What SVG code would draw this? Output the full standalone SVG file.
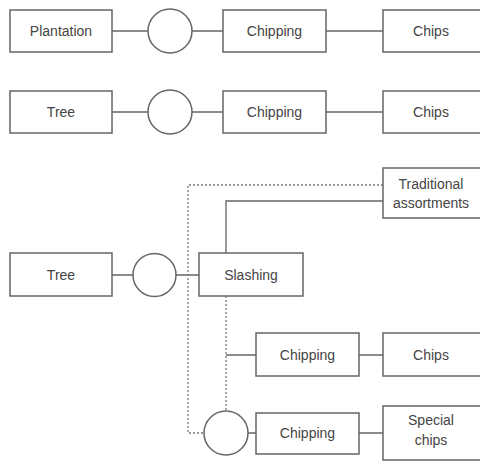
<svg xmlns="http://www.w3.org/2000/svg" width="480" height="462" viewBox="0 0 480 462">
<style>
.box{fill:#fff;stroke:#666;stroke-width:1.5}
.c{fill:#fff;stroke:#666;stroke-width:1.5}
.l{fill:none;stroke:#666;stroke-width:1.3}
.d{fill:none;stroke:#777;stroke-width:1.3;stroke-dasharray:2 2}
text{font-family:"Liberation Sans",Arial,sans-serif;font-size:14px;fill:#444;text-anchor:middle;dominant-baseline:central}
</style>
<rect width="480" height="462" fill="#fff"/>
<g id="connectors">
<path class="l" d="M112 31H148M192 31H223M326 31H383"/>
<path class="l" d="M112 112H148M192 112H223M326 112H383"/>
<path class="l" d="M112 275H133M176 275H199"/>
<path class="d" d="M383 185H188V433H204"/>
<path class="l" d="M226 253V201H383"/>
<path class="d" d="M226 296V411"/>
<path class="l" d="M226 355H256M359 355H383"/>
<path class="l" d="M248 433H256M359 433H383"/>
</g>
<g id="n1"><rect class="box" x="10" y="10" width="102" height="42"/><text x="61" y="31">Plantation</text></g>
<g id="c1"><circle class="c" cx="170" cy="31" r="22"/></g>
<g id="n2"><rect class="box" x="223" y="10" width="103" height="42"/><text x="274.5" y="31">Chipping</text></g>
<g id="n3"><rect class="box" x="383" y="10" width="100" height="42"/><text x="431" y="31">Chips</text></g>
<g id="n4"><rect class="box" x="10" y="91" width="102" height="42"/><text x="61" y="112">Tree</text></g>
<g id="c2"><circle class="c" cx="170" cy="112" r="22"/></g>
<g id="n5"><rect class="box" x="223" y="91" width="103" height="42"/><text x="274.5" y="112">Chipping</text></g>
<g id="n6"><rect class="box" x="383" y="91" width="100" height="42"/><text x="431" y="112">Chips</text></g>
<g id="n7"><rect class="box" x="10" y="253" width="102" height="43"/><text x="61" y="275">Tree</text></g>
<g id="c3"><circle class="c" cx="154.5" cy="275" r="21.5"/></g>
<g id="n8"><rect class="box" x="199" y="253" width="104" height="43"/><text x="251" y="275">Slashing</text></g>
<g id="n9"><rect class="box" x="383" y="168" width="100" height="50"/><text x="431" y="184">Traditional</text><text x="431" y="203">assortments</text></g>
<g id="n10"><rect class="box" x="256" y="333" width="103" height="43"/><text x="307.5" y="355">Chipping</text></g>
<g id="n11"><rect class="box" x="383" y="333" width="100" height="43"/><text x="431" y="355">Chips</text></g>
<g id="c4"><circle class="c" cx="226" cy="433" r="22"/></g>
<g id="n12"><rect class="box" x="256" y="413" width="103" height="41"/><text x="307.5" y="433">Chipping</text></g>
<g id="n13"><rect class="box" x="383" y="406" width="100" height="54"/><text x="431" y="420">Special</text><text x="431" y="440">chips</text></g>
</svg>
